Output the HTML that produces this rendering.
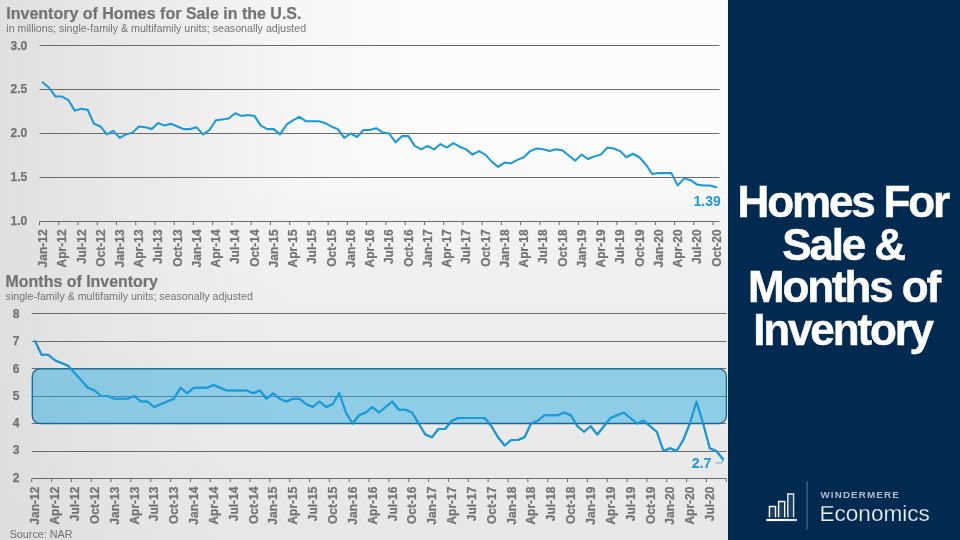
<!DOCTYPE html>
<html lang="en">
<head>
<meta charset="utf-8">
<title>Homes For Sale &amp; Months of Inventory</title>
<style>
html,body{margin:0;padding:0;}
body{width:960px;height:540px;overflow:hidden;position:relative;background:#ffffff;font-family:"Liberation Sans", Arial, Helvetica, sans-serif;}
#left{position:absolute;left:0;top:0;width:728px;height:540px;background:#ececec;overflow:hidden;}
#left div{position:absolute;left:-30px;top:-30px;width:788px;height:600px;filter:blur(5px);}
#left i{display:block;width:788px;height:10px;}
#right{position:absolute;left:728px;top:0;width:232px;height:540px;background:#012a50;}
</style>
</head>
<body>
<div id="left"><div><i style="background:linear-gradient(90deg,#e0e0e0 0px,#e0e0e0 30px,#e4e4e4 90px,#e9e9e9 150px,#ededed 210px,#f2f2f2 270px,#f6f6f6 330px,#f8f8f8 370px,#fafafa 410px,#fbfbfb 450px,#fcfcfc 490px,#fcfcfc 570px,#fcfcfc 788px)"></i><i style="background:linear-gradient(90deg,#e0e0e0 0px,#e0e0e0 30px,#e4e4e4 90px,#e9e9e9 150px,#ededed 210px,#f2f2f2 270px,#f6f6f6 330px,#f8f8f8 370px,#fafafa 410px,#fbfbfb 450px,#fcfcfc 490px,#fcfcfc 570px,#fcfcfc 788px)"></i><i style="background:linear-gradient(90deg,#e0e0e0 0px,#e0e0e0 30px,#e4e4e4 90px,#e9e9e9 150px,#ededed 210px,#f2f2f2 270px,#f6f6f6 330px,#f8f8f8 370px,#fafafa 410px,#fbfbfb 450px,#fcfcfc 490px,#fcfcfc 570px,#fcfcfc 788px)"></i><i style="background:linear-gradient(90deg,#e0e0e0 0px,#e0e0e0 30px,#e4e4e4 90px,#e9e9e9 150px,#ededed 210px,#f2f2f2 270px,#f6f6f6 330px,#f8f8f8 370px,#fafafa 410px,#fbfbfb 450px,#fcfcfc 490px,#fcfcfc 570px,#fcfcfc 788px)"></i><i style="background:linear-gradient(90deg,#e0e0e0 0px,#e0e0e0 30px,#e4e4e4 90px,#e9e9e9 150px,#ededed 210px,#f2f2f2 270px,#f6f6f6 330px,#f8f8f8 370px,#fafafa 410px,#fbfbfb 450px,#fcfcfc 490px,#fcfcfc 570px,#fcfcfc 788px)"></i><i style="background:linear-gradient(90deg,#e0e0e0 0px,#e0e0e0 30px,#e4e4e4 90px,#e9e9e9 150px,#ededed 210px,#f2f2f2 270px,#f6f6f6 330px,#f8f8f8 370px,#fafafa 410px,#fbfbfb 450px,#fcfcfc 490px,#fcfcfc 570px,#fcfcfc 788px)"></i><i style="background:linear-gradient(90deg,#e0e0e0 0px,#e0e0e0 30px,#e4e4e4 90px,#e9e9e9 150px,#ededed 210px,#f2f2f2 270px,#f6f6f6 330px,#f8f8f8 370px,#fafafa 410px,#fbfbfb 450px,#fcfcfc 490px,#fcfcfc 570px,#fcfcfc 788px)"></i><i style="background:linear-gradient(90deg,#e0e0e0 0px,#e0e0e0 30px,#e4e4e4 90px,#e9e9e9 150px,#ededed 210px,#f2f2f2 270px,#f6f6f6 330px,#f8f8f8 370px,#fafafa 410px,#fbfbfb 450px,#fcfcfc 490px,#fcfcfc 570px,#fcfcfc 788px)"></i><i style="background:linear-gradient(90deg,#e0e0e0 0px,#e0e0e0 30px,#e4e4e4 90px,#e9e9e9 150px,#ededed 210px,#f2f2f2 270px,#f6f6f6 330px,#f8f8f8 370px,#fafafa 410px,#fbfbfb 450px,#fcfcfc 490px,#fcfcfc 570px,#fcfcfc 788px)"></i><i style="background:linear-gradient(90deg,#e0e0e0 0px,#e0e0e0 30px,#e4e4e4 90px,#e9e9e9 150px,#ededed 210px,#f2f2f2 270px,#f6f6f6 330px,#f8f8f8 370px,#fafafa 410px,#fbfbfb 450px,#fcfcfc 490px,#fcfcfc 570px,#fcfcfc 788px)"></i><i style="background:linear-gradient(90deg,#e0e0e0 0px,#e0e0e0 30px,#e4e4e4 90px,#e9e9e9 150px,#ededed 210px,#f2f2f2 270px,#f6f6f6 330px,#f8f8f8 370px,#fafafa 410px,#fbfbfb 450px,#fcfcfc 490px,#fcfcfc 570px,#fcfcfc 788px)"></i><i style="background:linear-gradient(90deg,#e0e0e0 0px,#e0e0e0 30px,#e4e4e4 90px,#e9e9e9 150px,#ededed 210px,#f2f2f2 270px,#f6f6f6 330px,#f8f8f8 370px,#fafafa 410px,#fbfbfb 450px,#fcfcfc 490px,#fcfcfc 570px,#fcfcfc 788px)"></i><i style="background:linear-gradient(90deg,#e0e0e0 0px,#e0e0e0 30px,#e4e4e4 90px,#e9e9e9 150px,#ededed 210px,#f2f2f2 270px,#f6f6f6 330px,#f8f8f8 370px,#fafafa 410px,#fbfbfb 450px,#fcfcfc 490px,#fcfcfc 570px,#fcfcfc 788px)"></i><i style="background:linear-gradient(90deg,#e0e0e0 0px,#e0e0e0 30px,#e4e4e4 90px,#e9e9e9 150px,#ededed 210px,#f2f2f2 270px,#f6f6f6 330px,#f8f8f8 370px,#fafafa 410px,#fbfbfb 450px,#fcfcfc 490px,#fcfcfc 570px,#fcfcfc 788px)"></i><i style="background:linear-gradient(90deg,#e0e0e0 0px,#e0e0e0 30px,#e4e4e4 90px,#e9e9e9 150px,#ededed 210px,#f2f2f2 270px,#f6f6f6 330px,#f8f8f8 370px,#fafafa 410px,#fbfbfb 450px,#fcfcfc 490px,#fcfcfc 570px,#fcfcfc 788px)"></i><i style="background:linear-gradient(90deg,#e0e0e0 0px,#e0e0e0 30px,#e4e4e4 90px,#e9e9e9 150px,#ededed 210px,#f2f2f2 270px,#f6f6f6 330px,#f8f8f8 370px,#fafafa 410px,#fbfbfb 450px,#fcfcfc 490px,#fcfcfc 570px,#fcfcfc 788px)"></i><i style="background:linear-gradient(90deg,#e0e0e0 0px,#e0e0e0 30px,#e4e4e4 90px,#e9e9e9 150px,#ededed 210px,#f2f2f2 270px,#f6f6f6 330px,#f8f8f8 370px,#fafafa 410px,#fbfbfb 450px,#fcfcfc 490px,#fcfcfc 570px,#fcfcfc 788px)"></i><i style="background:linear-gradient(90deg,#e0e0e0 0px,#e0e0e0 30px,#e4e4e4 90px,#e9e9e9 150px,#ededed 210px,#f2f2f2 270px,#f6f6f6 330px,#f8f8f8 370px,#fafafa 410px,#fbfbfb 450px,#fcfcfc 490px,#fcfcfc 570px,#fcfcfc 788px)"></i><i style="background:linear-gradient(90deg,#e0e0e0 0px,#e0e0e0 30px,#e4e4e4 90px,#e9e9e9 150px,#ededed 210px,#f2f2f2 270px,#f6f6f6 330px,#f8f8f8 370px,#fafafa 410px,#fbfbfb 450px,#fbfbfb 490px,#fcfcfc 570px,#fcfcfc 788px)"></i><i style="background:linear-gradient(90deg,#e0e0e0 0px,#e0e0e0 30px,#e4e4e4 90px,#e9e9e9 150px,#ededed 210px,#f2f2f2 270px,#f6f6f6 330px,#f8f8f8 370px,#f9f9f9 410px,#fafafa 450px,#fafafa 490px,#fafafa 570px,#fafafa 788px)"></i><i style="background:linear-gradient(90deg,#e0e0e0 0px,#e0e0e0 30px,#e4e4e4 90px,#e9e9e9 150px,#ededed 210px,#f2f2f2 270px,#f6f6f6 330px,#f8f8f8 370px,#f9f9f9 410px,#f9f9f9 450px,#f9f9f9 490px,#f9f9f9 570px,#f9f9f9 788px)"></i><i style="background:linear-gradient(90deg,#e0e0e0 0px,#e0e0e0 30px,#e4e4e4 90px,#e9e9e9 150px,#ededed 210px,#f2f2f2 270px,#f6f6f6 330px,#f7f7f7 370px,#f8f8f8 410px,#f8f8f8 450px,#f8f8f8 490px,#f8f8f8 570px,#f8f8f8 788px)"></i><i style="background:linear-gradient(90deg,#e0e0e0 0px,#e0e0e0 30px,#e4e4e4 90px,#e9e9e9 150px,#ededed 210px,#f2f2f2 270px,#f5f5f5 330px,#f6f6f6 370px,#f6f6f6 410px,#f7f7f7 450px,#f7f7f7 490px,#f7f7f7 570px,#f7f7f7 788px)"></i><i style="background:linear-gradient(90deg,#e0e0e0 0px,#e0e0e0 30px,#e4e4e4 90px,#e9e9e9 150px,#ededed 210px,#f1f1f1 270px,#f4f4f4 330px,#f5f5f5 370px,#f5f5f5 410px,#f5f5f5 450px,#f5f5f5 490px,#f5f5f5 570px,#f5f5f5 788px)"></i><i style="background:linear-gradient(90deg,#e0e0e0 0px,#e0e0e0 30px,#e4e4e4 90px,#e9e9e9 150px,#ededed 210px,#f1f1f1 270px,#f4f4f4 330px,#f4f4f4 370px,#f4f4f4 410px,#f4f4f4 450px,#f4f4f4 490px,#f4f4f4 570px,#f4f4f4 788px)"></i><i style="background:linear-gradient(90deg,#e0e0e0 0px,#e0e0e0 30px,#e4e4e4 90px,#e8e8e8 150px,#ededed 210px,#f0f0f0 270px,#f3f3f3 330px,#f3f3f3 370px,#f3f3f3 410px,#f3f3f3 450px,#f3f3f3 490px,#f3f3f3 570px,#f3f3f3 788px)"></i><i style="background:linear-gradient(90deg,#dfdfdf 0px,#dfdfdf 30px,#e4e4e4 90px,#e8e8e8 150px,#ececec 210px,#f0f0f0 270px,#f2f2f2 330px,#f2f2f2 370px,#f2f2f2 410px,#f2f2f2 450px,#f2f2f2 490px,#f2f2f2 570px,#f2f2f2 788px)"></i><i style="background:linear-gradient(90deg,#dfdfdf 0px,#dfdfdf 30px,#e4e4e4 90px,#e8e8e8 150px,#ececec 210px,#efefef 270px,#f1f1f1 330px,#f1f1f1 370px,#f1f1f1 410px,#f1f1f1 450px,#f1f1f1 490px,#f1f1f1 570px,#f1f1f1 788px)"></i><i style="background:linear-gradient(90deg,#dfdfdf 0px,#dfdfdf 30px,#e4e4e4 90px,#e8e8e8 150px,#ececec 210px,#efefef 270px,#f1f1f1 330px,#f1f1f1 370px,#f1f1f1 410px,#f1f1f1 450px,#f1f1f1 490px,#f1f1f1 570px,#f1f1f1 788px)"></i><i style="background:linear-gradient(90deg,#dfdfdf 0px,#dfdfdf 30px,#e4e4e4 90px,#e8e8e8 150px,#ececec 210px,#efefef 270px,#f0f0f0 330px,#f0f0f0 370px,#f0f0f0 410px,#f0f0f0 450px,#f0f0f0 490px,#f0f0f0 570px,#f0f0f0 788px)"></i><i style="background:linear-gradient(90deg,#dfdfdf 0px,#dfdfdf 30px,#e4e4e4 90px,#e8e8e8 150px,#ebebeb 210px,#eeeeee 270px,#f0f0f0 330px,#f0f0f0 370px,#f0f0f0 410px,#f0f0f0 450px,#f0f0f0 490px,#f0f0f0 570px,#f0f0f0 788px)"></i><i style="background:linear-gradient(90deg,#dfdfdf 0px,#dfdfdf 30px,#e3e3e3 90px,#e7e7e7 150px,#ebebeb 210px,#eeeeee 270px,#efefef 330px,#efefef 370px,#efefef 410px,#efefef 450px,#efefef 490px,#efefef 570px,#efefef 788px)"></i><i style="background:linear-gradient(90deg,#dfdfdf 0px,#dfdfdf 30px,#e3e3e3 90px,#e7e7e7 150px,#ebebeb 210px,#ededed 270px,#efefef 330px,#efefef 370px,#efefef 410px,#efefef 450px,#efefef 490px,#efefef 570px,#efefef 788px)"></i><i style="background:linear-gradient(90deg,#dfdfdf 0px,#dfdfdf 30px,#e3e3e3 90px,#e7e7e7 150px,#ebebeb 210px,#ededed 270px,#eeeeee 330px,#eeeeee 370px,#eeeeee 410px,#eeeeee 450px,#eeeeee 490px,#eeeeee 570px,#eeeeee 788px)"></i><i style="background:linear-gradient(90deg,#dfdfdf 0px,#dfdfdf 30px,#e3e3e3 90px,#e7e7e7 150px,#eaeaea 210px,#ededed 270px,#eeeeee 330px,#eeeeee 370px,#eeeeee 410px,#eeeeee 450px,#eeeeee 490px,#eeeeee 570px,#eeeeee 788px)"></i><i style="background:linear-gradient(90deg,#dfdfdf 0px,#dfdfdf 30px,#e3e3e3 90px,#e7e7e7 150px,#eaeaea 210px,#ececec 270px,#ededed 330px,#eeeeee 370px,#eeeeee 410px,#eeeeee 450px,#eeeeee 490px,#eeeeee 570px,#eeeeee 788px)"></i><i style="background:linear-gradient(90deg,#dfdfdf 0px,#dfdfdf 30px,#e3e3e3 90px,#e7e7e7 150px,#eaeaea 210px,#ececec 270px,#ededed 330px,#ededed 370px,#ededed 410px,#ededed 450px,#ededed 490px,#ededed 570px,#ededed 788px)"></i><i style="background:linear-gradient(90deg,#dfdfdf 0px,#dfdfdf 30px,#e3e3e3 90px,#e7e7e7 150px,#eaeaea 210px,#ececec 270px,#ededed 330px,#ededed 370px,#ededed 410px,#ededed 450px,#ededed 490px,#ededed 570px,#ededed 788px)"></i><i style="background:linear-gradient(90deg,#dfdfdf 0px,#dfdfdf 30px,#e3e3e3 90px,#e6e6e6 150px,#eaeaea 210px,#ececec 270px,#ececec 330px,#ececec 370px,#ededed 410px,#ededed 450px,#ededed 490px,#ededed 570px,#ededed 788px)"></i><i style="background:linear-gradient(90deg,#dfdfdf 0px,#dfdfdf 30px,#e3e3e3 90px,#e6e6e6 150px,#e9e9e9 210px,#ebebeb 270px,#ececec 330px,#ececec 370px,#ececec 410px,#ececec 450px,#ececec 490px,#ececec 570px,#ececec 788px)"></i><i style="background:linear-gradient(90deg,#dfdfdf 0px,#dfdfdf 30px,#e3e3e3 90px,#e6e6e6 150px,#e9e9e9 210px,#ebebeb 270px,#ececec 330px,#ececec 370px,#ececec 410px,#ececec 450px,#ececec 490px,#ececec 570px,#ececec 788px)"></i><i style="background:linear-gradient(90deg,#dedede 0px,#dedede 30px,#e2e2e2 90px,#e6e6e6 150px,#e9e9e9 210px,#ebebeb 270px,#ececec 330px,#ececec 370px,#ececec 410px,#ececec 450px,#ececec 490px,#ececec 570px,#ececec 788px)"></i><i style="background:linear-gradient(90deg,#dedede 0px,#dedede 30px,#e2e2e2 90px,#e6e6e6 150px,#e9e9e9 210px,#ebebeb 270px,#ebebeb 330px,#ebebeb 370px,#ebebeb 410px,#ebebeb 450px,#ebebeb 490px,#ebebeb 570px,#ebebeb 788px)"></i><i style="background:linear-gradient(90deg,#dedede 0px,#dedede 30px,#e2e2e2 90px,#e6e6e6 150px,#e9e9e9 210px,#eaeaea 270px,#ebebeb 330px,#ebebeb 370px,#ebebeb 410px,#ebebeb 450px,#ebebeb 490px,#ebebeb 570px,#ebebeb 788px)"></i><i style="background:linear-gradient(90deg,#dedede 0px,#dedede 30px,#e2e2e2 90px,#e6e6e6 150px,#e8e8e8 210px,#eaeaea 270px,#ebebeb 330px,#ebebeb 370px,#ebebeb 410px,#ebebeb 450px,#ebebeb 490px,#ebebeb 570px,#ebebeb 788px)"></i><i style="background:linear-gradient(90deg,#dedede 0px,#dedede 30px,#e2e2e2 90px,#e6e6e6 150px,#e8e8e8 210px,#eaeaea 270px,#eaeaea 330px,#ebebeb 370px,#ebebeb 410px,#ebebeb 450px,#ebebeb 490px,#ebebeb 570px,#ebebeb 788px)"></i><i style="background:linear-gradient(90deg,#dedede 0px,#dedede 30px,#e2e2e2 90px,#e5e5e5 150px,#e8e8e8 210px,#eaeaea 270px,#eaeaea 330px,#eaeaea 370px,#eaeaea 410px,#eaeaea 450px,#eaeaea 490px,#eaeaea 570px,#eaeaea 788px)"></i><i style="background:linear-gradient(90deg,#dedede 0px,#dedede 30px,#e2e2e2 90px,#e5e5e5 150px,#e8e8e8 210px,#e9e9e9 270px,#eaeaea 330px,#eaeaea 370px,#eaeaea 410px,#eaeaea 450px,#eaeaea 490px,#eaeaea 570px,#eaeaea 788px)"></i><i style="background:linear-gradient(90deg,#dedede 0px,#dedede 30px,#e2e2e2 90px,#e5e5e5 150px,#e8e8e8 210px,#e9e9e9 270px,#eaeaea 330px,#eaeaea 370px,#eaeaea 410px,#eaeaea 450px,#eaeaea 490px,#eaeaea 570px,#eaeaea 788px)"></i><i style="background:linear-gradient(90deg,#dedede 0px,#dedede 30px,#e2e2e2 90px,#e5e5e5 150px,#e7e7e7 210px,#e9e9e9 270px,#e9e9e9 330px,#e9e9e9 370px,#e9e9e9 410px,#e9e9e9 450px,#e9e9e9 490px,#e9e9e9 570px,#e9e9e9 788px)"></i><i style="background:linear-gradient(90deg,#dedede 0px,#dedede 30px,#e1e1e1 90px,#e5e5e5 150px,#e7e7e7 210px,#e8e8e8 270px,#e9e9e9 330px,#e9e9e9 370px,#e9e9e9 410px,#e9e9e9 450px,#e9e9e9 490px,#e9e9e9 570px,#e9e9e9 788px)"></i><i style="background:linear-gradient(90deg,#dedede 0px,#dedede 30px,#e1e1e1 90px,#e4e4e4 150px,#e7e7e7 210px,#e8e8e8 270px,#e9e9e9 330px,#e9e9e9 370px,#e9e9e9 410px,#e9e9e9 450px,#e9e9e9 490px,#e9e9e9 570px,#e9e9e9 788px)"></i><i style="background:linear-gradient(90deg,#dedede 0px,#dedede 30px,#e1e1e1 90px,#e4e4e4 150px,#e7e7e7 210px,#e8e8e8 270px,#e8e8e8 330px,#e8e8e8 370px,#e8e8e8 410px,#e9e9e9 450px,#e9e9e9 490px,#e9e9e9 570px,#e9e9e9 788px)"></i><i style="background:linear-gradient(90deg,#dddddd 0px,#dddddd 30px,#e1e1e1 90px,#e4e4e4 150px,#e6e6e6 210px,#e8e8e8 270px,#e8e8e8 330px,#e8e8e8 370px,#e8e8e8 410px,#e8e8e8 450px,#e8e8e8 490px,#e8e8e8 570px,#e8e8e8 788px)"></i><i style="background:linear-gradient(90deg,#dddddd 0px,#dddddd 30px,#e1e1e1 90px,#e4e4e4 150px,#e6e6e6 210px,#e7e7e7 270px,#e8e8e8 330px,#e8e8e8 370px,#e8e8e8 410px,#e8e8e8 450px,#e8e8e8 490px,#e8e8e8 570px,#e8e8e8 788px)"></i><i style="background:linear-gradient(90deg,#dddddd 0px,#dddddd 30px,#e1e1e1 90px,#e4e4e4 150px,#e6e6e6 210px,#e7e7e7 270px,#e7e7e7 330px,#e8e8e8 370px,#e8e8e8 410px,#e8e8e8 450px,#e8e8e8 490px,#e8e8e8 570px,#e8e8e8 788px)"></i><i style="background:linear-gradient(90deg,#dddddd 0px,#dddddd 30px,#e1e1e1 90px,#e3e3e3 150px,#e6e6e6 210px,#e7e7e7 270px,#e7e7e7 330px,#e7e7e7 370px,#e7e7e7 410px,#e7e7e7 450px,#e7e7e7 490px,#e7e7e7 570px,#e7e7e7 788px)"></i><i style="background:linear-gradient(90deg,#dddddd 0px,#dddddd 30px,#e1e1e1 90px,#e3e3e3 150px,#e5e5e5 210px,#e7e7e7 270px,#e7e7e7 330px,#e7e7e7 370px,#e7e7e7 410px,#e7e7e7 450px,#e7e7e7 490px,#e7e7e7 570px,#e7e7e7 788px)"></i><i style="background:linear-gradient(90deg,#dddddd 0px,#dddddd 30px,#e1e1e1 90px,#e3e3e3 150px,#e5e5e5 210px,#e7e7e7 270px,#e7e7e7 330px,#e7e7e7 370px,#e7e7e7 410px,#e7e7e7 450px,#e7e7e7 490px,#e7e7e7 570px,#e7e7e7 788px)"></i><i style="background:linear-gradient(90deg,#dddddd 0px,#dddddd 30px,#e1e1e1 90px,#e3e3e3 150px,#e5e5e5 210px,#e7e7e7 270px,#e7e7e7 330px,#e7e7e7 370px,#e7e7e7 410px,#e7e7e7 450px,#e7e7e7 490px,#e7e7e7 570px,#e7e7e7 788px)"></i></div></div>
<div id="right"></div>
<svg width="960" height="540" viewBox="0 0 960 540" style="position:absolute;left:0;top:0">
<g stroke="#6a6a6a" stroke-width="1" fill="none">
<line x1="39.50" y1="45.50" x2="719.50" y2="45.50"/>
<line x1="39.50" y1="89.50" x2="719.50" y2="89.50"/>
<line x1="39.50" y1="133.50" x2="719.50" y2="133.50"/>
<line x1="39.50" y1="177.50" x2="719.50" y2="177.50"/>
<line x1="39.50" y1="221.50" x2="719.50" y2="221.50"/>
<line x1="39.50" y1="221.50" x2="39.50" y2="225.10"/>
<line x1="58.75" y1="221.50" x2="58.75" y2="225.10"/>
<line x1="77.99" y1="221.50" x2="77.99" y2="225.10"/>
<line x1="97.24" y1="221.50" x2="97.24" y2="225.10"/>
<line x1="116.48" y1="221.50" x2="116.48" y2="225.10"/>
<line x1="135.73" y1="221.50" x2="135.73" y2="225.10"/>
<line x1="154.97" y1="221.50" x2="154.97" y2="225.10"/>
<line x1="174.22" y1="221.50" x2="174.22" y2="225.10"/>
<line x1="193.46" y1="221.50" x2="193.46" y2="225.10"/>
<line x1="212.71" y1="221.50" x2="212.71" y2="225.10"/>
<line x1="231.95" y1="221.50" x2="231.95" y2="225.10"/>
<line x1="251.20" y1="221.50" x2="251.20" y2="225.10"/>
<line x1="270.44" y1="221.50" x2="270.44" y2="225.10"/>
<line x1="289.69" y1="221.50" x2="289.69" y2="225.10"/>
<line x1="308.93" y1="221.50" x2="308.93" y2="225.10"/>
<line x1="328.18" y1="221.50" x2="328.18" y2="225.10"/>
<line x1="347.42" y1="221.50" x2="347.42" y2="225.10"/>
<line x1="366.67" y1="221.50" x2="366.67" y2="225.10"/>
<line x1="385.92" y1="221.50" x2="385.92" y2="225.10"/>
<line x1="405.16" y1="221.50" x2="405.16" y2="225.10"/>
<line x1="424.41" y1="221.50" x2="424.41" y2="225.10"/>
<line x1="443.65" y1="221.50" x2="443.65" y2="225.10"/>
<line x1="462.90" y1="221.50" x2="462.90" y2="225.10"/>
<line x1="482.14" y1="221.50" x2="482.14" y2="225.10"/>
<line x1="501.39" y1="221.50" x2="501.39" y2="225.10"/>
<line x1="520.63" y1="221.50" x2="520.63" y2="225.10"/>
<line x1="539.88" y1="221.50" x2="539.88" y2="225.10"/>
<line x1="559.12" y1="221.50" x2="559.12" y2="225.10"/>
<line x1="578.37" y1="221.50" x2="578.37" y2="225.10"/>
<line x1="597.61" y1="221.50" x2="597.61" y2="225.10"/>
<line x1="616.86" y1="221.50" x2="616.86" y2="225.10"/>
<line x1="636.10" y1="221.50" x2="636.10" y2="225.10"/>
<line x1="655.35" y1="221.50" x2="655.35" y2="225.10"/>
<line x1="674.59" y1="221.50" x2="674.59" y2="225.10"/>
<line x1="693.84" y1="221.50" x2="693.84" y2="225.10"/>
<line x1="713.08" y1="221.50" x2="713.08" y2="225.10"/>
</g>
<g font-family='"Liberation Sans", Arial, Helvetica, sans-serif' font-weight="bold" font-size="12" fill="#737373" stroke="#737373" stroke-width="0.25" text-anchor="end">
<text x="27.2" y="49.50">3.0</text>
<text x="27.2" y="93.25">2.5</text>
<text x="27.2" y="137.00">2.0</text>
<text x="27.2" y="180.75">1.5</text>
<text x="27.2" y="224.50">1.0</text>
</g>
<g font-family='"Liberation Sans", Arial, Helvetica, sans-serif' font-weight="bold" font-size="12" fill="#737373" stroke="#737373" stroke-width="0.25" text-anchor="end">
<text transform="translate(47.01 229.40) rotate(-90)">Jan-12</text>
<text transform="translate(66.25 229.40) rotate(-90)">Apr-12</text>
<text transform="translate(85.50 229.40) rotate(-90)">Jul-12</text>
<text transform="translate(104.74 229.40) rotate(-90)">Oct-12</text>
<text transform="translate(123.99 229.40) rotate(-90)">Jan-13</text>
<text transform="translate(143.23 229.40) rotate(-90)">Apr-13</text>
<text transform="translate(162.48 229.40) rotate(-90)">Jul-13</text>
<text transform="translate(181.72 229.40) rotate(-90)">Oct-13</text>
<text transform="translate(200.97 229.40) rotate(-90)">Jan-14</text>
<text transform="translate(220.22 229.40) rotate(-90)">Apr-14</text>
<text transform="translate(239.46 229.40) rotate(-90)">Jul-14</text>
<text transform="translate(258.71 229.40) rotate(-90)">Oct-14</text>
<text transform="translate(277.95 229.40) rotate(-90)">Jan-15</text>
<text transform="translate(297.20 229.40) rotate(-90)">Apr-15</text>
<text transform="translate(316.44 229.40) rotate(-90)">Jul-15</text>
<text transform="translate(335.69 229.40) rotate(-90)">Oct-15</text>
<text transform="translate(354.93 229.40) rotate(-90)">Jan-16</text>
<text transform="translate(374.18 229.40) rotate(-90)">Apr-16</text>
<text transform="translate(393.42 229.40) rotate(-90)">Jul-16</text>
<text transform="translate(412.67 229.40) rotate(-90)">Oct-16</text>
<text transform="translate(431.91 229.40) rotate(-90)">Jan-17</text>
<text transform="translate(451.16 229.40) rotate(-90)">Apr-17</text>
<text transform="translate(470.40 229.40) rotate(-90)">Jul-17</text>
<text transform="translate(489.65 229.40) rotate(-90)">Oct-17</text>
<text transform="translate(508.89 229.40) rotate(-90)">Jan-18</text>
<text transform="translate(528.14 229.40) rotate(-90)">Apr-18</text>
<text transform="translate(547.38 229.40) rotate(-90)">Jul-18</text>
<text transform="translate(566.63 229.40) rotate(-90)">Oct-18</text>
<text transform="translate(585.88 229.40) rotate(-90)">Jan-19</text>
<text transform="translate(605.12 229.40) rotate(-90)">Apr-19</text>
<text transform="translate(624.37 229.40) rotate(-90)">Jul-19</text>
<text transform="translate(643.61 229.40) rotate(-90)">Oct-19</text>
<text transform="translate(662.86 229.40) rotate(-90)">Jan-20</text>
<text transform="translate(682.10 229.40) rotate(-90)">Apr-20</text>
<text transform="translate(701.35 229.40) rotate(-90)">Jul-20</text>
<text transform="translate(720.59 229.40) rotate(-90)">Oct-20</text>
</g>
<polyline points="42.71,82.46 49.12,87.74 55.54,96.54 61.95,96.54 68.37,100.06 74.78,110.62 81.20,108.86 87.61,109.74 94.03,123.82 100.44,126.46 106.86,134.38 113.27,130.86 119.69,137.90 126.10,134.38 132.52,132.62 138.93,126.46 145.35,127.34 151.76,129.10 158.18,122.94 164.59,125.58 171.01,123.82 177.42,126.46 183.84,129.10 190.25,129.10 196.67,127.34 203.08,134.38 209.50,129.98 215.92,120.30 222.33,119.42 228.75,118.54 235.16,113.26 241.58,115.90 247.99,115.02 254.41,115.90 260.82,125.58 267.24,129.10 273.65,129.10 280.07,134.38 286.48,124.70 292.90,120.30 299.31,116.78 305.73,121.18 312.14,121.18 318.56,121.18 324.97,122.94 331.39,126.46 337.80,129.10 344.22,137.90 350.63,133.50 357.05,137.02 363.46,129.98 369.88,129.98 376.29,128.22 382.71,132.62 389.12,133.50 395.54,142.30 401.95,136.14 408.37,136.14 414.78,145.82 421.20,149.34 427.61,145.82 434.03,149.34 440.44,144.06 446.86,147.58 453.27,143.18 459.69,146.70 466.10,149.34 472.52,154.62 478.93,151.10 485.35,154.62 491.76,161.66 498.18,166.94 504.59,162.54 511.01,163.42 517.42,159.90 523.84,157.26 530.25,151.10 536.67,148.46 543.08,149.34 549.50,151.10 555.92,149.34 562.33,150.22 568.75,155.50 575.16,160.78 581.58,154.62 587.99,159.02 594.41,156.38 600.82,154.62 607.24,147.58 613.65,148.46 620.07,151.10 626.48,157.26 632.90,153.74 639.31,157.26 645.73,164.30 652.14,173.98 658.56,173.10 664.97,173.10 671.39,173.10 677.80,185.42 684.22,178.38 690.63,180.14 697.05,184.54 703.46,185.42 709.88,185.42 716.29,187.18" fill="none" stroke="#1b98d6" stroke-width="2.05" stroke-linejoin="round" stroke-linecap="round"/>
<text x="720.8" y="206.3" text-anchor="end" font-family='"Liberation Sans", Arial, Helvetica, sans-serif' font-weight="bold" font-size="14" fill="#1b98d6">1.39</text>
<g stroke="#6a6a6a" stroke-width="1" fill="none">
<line x1="31.70" y1="313.50" x2="726.30" y2="313.50"/>
<line x1="31.70" y1="341.50" x2="726.30" y2="341.50"/>
<line x1="31.70" y1="368.50" x2="726.30" y2="368.50"/>
<line x1="31.70" y1="396.50" x2="726.30" y2="396.50"/>
<line x1="31.70" y1="423.50" x2="726.30" y2="423.50"/>
<line x1="31.70" y1="451.50" x2="726.30" y2="451.50"/>
<line x1="31.70" y1="478.50" x2="726.30" y2="478.50"/>
<line x1="31.70" y1="478.50" x2="31.70" y2="482.10"/>
<line x1="51.55" y1="478.50" x2="51.55" y2="482.10"/>
<line x1="71.39" y1="478.50" x2="71.39" y2="482.10"/>
<line x1="91.23" y1="478.50" x2="91.23" y2="482.10"/>
<line x1="111.08" y1="478.50" x2="111.08" y2="482.10"/>
<line x1="130.93" y1="478.50" x2="130.93" y2="482.10"/>
<line x1="150.77" y1="478.50" x2="150.77" y2="482.10"/>
<line x1="170.61" y1="478.50" x2="170.61" y2="482.10"/>
<line x1="190.46" y1="478.50" x2="190.46" y2="482.10"/>
<line x1="210.31" y1="478.50" x2="210.31" y2="482.10"/>
<line x1="230.15" y1="478.50" x2="230.15" y2="482.10"/>
<line x1="250.00" y1="478.50" x2="250.00" y2="482.10"/>
<line x1="269.84" y1="478.50" x2="269.84" y2="482.10"/>
<line x1="289.69" y1="478.50" x2="289.69" y2="482.10"/>
<line x1="309.53" y1="478.50" x2="309.53" y2="482.10"/>
<line x1="329.38" y1="478.50" x2="329.38" y2="482.10"/>
<line x1="349.22" y1="478.50" x2="349.22" y2="482.10"/>
<line x1="369.06" y1="478.50" x2="369.06" y2="482.10"/>
<line x1="388.91" y1="478.50" x2="388.91" y2="482.10"/>
<line x1="408.75" y1="478.50" x2="408.75" y2="482.10"/>
<line x1="428.60" y1="478.50" x2="428.60" y2="482.10"/>
<line x1="448.44" y1="478.50" x2="448.44" y2="482.10"/>
<line x1="468.29" y1="478.50" x2="468.29" y2="482.10"/>
<line x1="488.13" y1="478.50" x2="488.13" y2="482.10"/>
<line x1="507.98" y1="478.50" x2="507.98" y2="482.10"/>
<line x1="527.83" y1="478.50" x2="527.83" y2="482.10"/>
<line x1="547.67" y1="478.50" x2="547.67" y2="482.10"/>
<line x1="567.52" y1="478.50" x2="567.52" y2="482.10"/>
<line x1="587.36" y1="478.50" x2="587.36" y2="482.10"/>
<line x1="607.21" y1="478.50" x2="607.21" y2="482.10"/>
<line x1="627.05" y1="478.50" x2="627.05" y2="482.10"/>
<line x1="646.90" y1="478.50" x2="646.90" y2="482.10"/>
<line x1="666.74" y1="478.50" x2="666.74" y2="482.10"/>
<line x1="686.59" y1="478.50" x2="686.59" y2="482.10"/>
<line x1="706.43" y1="478.50" x2="706.43" y2="482.10"/>
<line x1="726.28" y1="478.50" x2="726.28" y2="482.10"/>
</g>
<g font-family='"Liberation Sans", Arial, Helvetica, sans-serif' font-weight="bold" font-size="12" fill="#737373" stroke="#737373" stroke-width="0.25" text-anchor="end">
<text x="19.5" y="318.00">8</text>
<text x="19.5" y="345.28">7</text>
<text x="19.5" y="372.57">6</text>
<text x="19.5" y="399.85">5</text>
<text x="19.5" y="427.13">4</text>
<text x="19.5" y="454.42">3</text>
<text x="19.5" y="481.70">2</text>
</g>
<polyline points="35.00,341.00 41.62,354.75 48.23,354.75 54.84,360.25 61.46,363.00 68.08,365.75 74.69,373.18 81.31,380.32 87.92,387.75 94.53,390.50 101.15,396.00 107.77,396.00 114.38,398.75 121.00,398.75 127.61,398.75 134.23,396.00 140.84,401.50 147.45,401.50 154.07,407.00 160.69,404.25 167.30,401.50 173.91,398.75 180.53,387.75 187.15,393.25 193.76,387.75 200.38,387.75 206.99,387.75 213.61,385.00 220.22,387.75 226.84,390.50 233.45,390.50 240.06,390.50 246.68,390.50 253.30,393.25 259.91,390.50 266.52,398.75 273.14,393.25 279.75,398.75 286.37,401.50 292.99,398.75 299.60,398.75 306.22,404.25 312.83,407.00 319.44,401.50 326.06,407.00 332.68,404.25 339.29,393.25 345.91,412.50 352.52,423.50 359.13,415.25 365.75,412.50 372.37,407.00 378.98,412.50 385.60,407.00 392.21,401.50 398.82,409.75 405.44,409.75 412.06,412.50 418.67,423.50 425.29,434.50 431.90,437.25 438.51,429.00 445.13,429.00 451.75,420.75 458.36,418.00 464.98,418.00 471.59,418.00 478.21,418.00 484.82,418.00 491.44,426.25 498.05,437.25 504.67,445.50 511.28,440.00 517.89,440.00 524.51,437.25 531.12,423.50 537.74,420.75 544.36,415.25 550.97,415.25 557.59,415.25 564.20,412.50 570.82,415.25 577.43,426.25 584.05,431.75 590.66,426.25 597.27,434.50 603.89,426.25 610.50,418.00 617.12,415.25 623.74,412.50 630.35,418.00 636.97,423.50 643.58,420.75 650.20,426.25 656.81,431.75 663.43,451.00 670.04,448.25 676.65,451.00 683.27,440.00 689.88,423.50 696.50,401.50 703.12,423.50 709.73,448.25 716.35,451.00 722.96,459.25" fill="none" stroke="#1b98d6" stroke-width="2.05" stroke-linejoin="round" stroke-linecap="round"/>
<rect x="32.3" y="368.80" width="694.10" height="54.70" rx="7.5" ry="7.5" fill="#29abe2" fill-opacity="0.48" stroke="#1a6a98" stroke-width="1.35"/>
<polyline points="35.00,341.00 41.62,354.75 48.23,354.75 54.84,360.25 61.46,363.00 68.08,365.75 74.69,373.18 81.31,380.32 87.92,387.75 94.53,390.50 101.15,396.00 107.77,396.00 114.38,398.75 121.00,398.75 127.61,398.75 134.23,396.00 140.84,401.50 147.45,401.50 154.07,407.00 160.69,404.25 167.30,401.50 173.91,398.75 180.53,387.75 187.15,393.25 193.76,387.75 200.38,387.75 206.99,387.75 213.61,385.00 220.22,387.75 226.84,390.50 233.45,390.50 240.06,390.50 246.68,390.50 253.30,393.25 259.91,390.50 266.52,398.75 273.14,393.25 279.75,398.75 286.37,401.50 292.99,398.75 299.60,398.75 306.22,404.25 312.83,407.00 319.44,401.50 326.06,407.00 332.68,404.25 339.29,393.25 345.91,412.50 352.52,423.50 359.13,415.25 365.75,412.50 372.37,407.00 378.98,412.50 385.60,407.00 392.21,401.50 398.82,409.75 405.44,409.75 412.06,412.50 418.67,423.50 425.29,434.50 431.90,437.25 438.51,429.00 445.13,429.00 451.75,420.75 458.36,418.00 464.98,418.00 471.59,418.00 478.21,418.00 484.82,418.00 491.44,426.25 498.05,437.25 504.67,445.50 511.28,440.00 517.89,440.00 524.51,437.25 531.12,423.50 537.74,420.75 544.36,415.25 550.97,415.25 557.59,415.25 564.20,412.50 570.82,415.25 577.43,426.25 584.05,431.75 590.66,426.25 597.27,434.50 603.89,426.25 610.50,418.00 617.12,415.25 623.74,412.50 630.35,418.00 636.97,423.50 643.58,420.75 650.20,426.25 656.81,431.75 663.43,451.00 670.04,448.25 676.65,451.00 683.27,440.00 689.88,423.50 696.50,401.50 703.12,423.50 709.73,448.25 716.35,451.00 722.96,459.25" fill="none" stroke="#1b98d6" stroke-width="2.05" stroke-opacity="0.75" stroke-linejoin="round" stroke-linecap="round"/>
<g font-family='"Liberation Sans", Arial, Helvetica, sans-serif' font-weight="bold" font-size="12" fill="#737373" stroke="#737373" stroke-width="0.25" text-anchor="end">
<text transform="translate(39.30 486.60) rotate(-90)">Jan-12</text>
<text transform="translate(59.14 486.60) rotate(-90)">Apr-12</text>
<text transform="translate(78.99 486.60) rotate(-90)">Jul-12</text>
<text transform="translate(98.83 486.60) rotate(-90)">Oct-12</text>
<text transform="translate(118.68 486.60) rotate(-90)">Jan-13</text>
<text transform="translate(138.53 486.60) rotate(-90)">Apr-13</text>
<text transform="translate(158.37 486.60) rotate(-90)">Jul-13</text>
<text transform="translate(178.22 486.60) rotate(-90)">Oct-13</text>
<text transform="translate(198.06 486.60) rotate(-90)">Jan-14</text>
<text transform="translate(217.91 486.60) rotate(-90)">Apr-14</text>
<text transform="translate(237.75 486.60) rotate(-90)">Jul-14</text>
<text transform="translate(257.60 486.60) rotate(-90)">Oct-14</text>
<text transform="translate(277.44 486.60) rotate(-90)">Jan-15</text>
<text transform="translate(297.29 486.60) rotate(-90)">Apr-15</text>
<text transform="translate(317.13 486.60) rotate(-90)">Jul-15</text>
<text transform="translate(336.98 486.60) rotate(-90)">Oct-15</text>
<text transform="translate(356.82 486.60) rotate(-90)">Jan-16</text>
<text transform="translate(376.67 486.60) rotate(-90)">Apr-16</text>
<text transform="translate(396.51 486.60) rotate(-90)">Jul-16</text>
<text transform="translate(416.36 486.60) rotate(-90)">Oct-16</text>
<text transform="translate(436.20 486.60) rotate(-90)">Jan-17</text>
<text transform="translate(456.05 486.60) rotate(-90)">Apr-17</text>
<text transform="translate(475.89 486.60) rotate(-90)">Jul-17</text>
<text transform="translate(495.74 486.60) rotate(-90)">Oct-17</text>
<text transform="translate(515.58 486.60) rotate(-90)">Jan-18</text>
<text transform="translate(535.42 486.60) rotate(-90)">Apr-18</text>
<text transform="translate(555.27 486.60) rotate(-90)">Jul-18</text>
<text transform="translate(575.12 486.60) rotate(-90)">Oct-18</text>
<text transform="translate(594.96 486.60) rotate(-90)">Jan-19</text>
<text transform="translate(614.80 486.60) rotate(-90)">Apr-19</text>
<text transform="translate(634.65 486.60) rotate(-90)">Jul-19</text>
<text transform="translate(654.50 486.60) rotate(-90)">Oct-19</text>
<text transform="translate(674.34 486.60) rotate(-90)">Jan-20</text>
<text transform="translate(694.18 486.60) rotate(-90)">Apr-20</text>
<text transform="translate(714.03 486.60) rotate(-90)">Jul-20</text>
</g>
<text x="711.3" y="468.0" text-anchor="end" font-family='"Liberation Sans", Arial, Helvetica, sans-serif' font-weight="bold" font-size="14" fill="#1b98d6">2.7</text>
<polyline points="715.5,463 722,463 723.3,460" fill="none" stroke="#4aaee3" stroke-width="0.9"/>
<g font-family='"Liberation Sans", Arial, Helvetica, sans-serif' fill="#737373">
<text x="6.3" y="18.85" font-weight="bold" font-size="16" stroke="#737373" stroke-width="0.2">Inventory of Homes for Sale in the U.S.</text>
<text x="6.3" y="31.7" font-size="10.65">in millions; single-family &amp; multifamily units; seasonally adjusted</text>
<text x="5.6" y="286.6" font-weight="bold" font-size="15.95" stroke="#737373" stroke-width="0.2">Months of Inventory</text>
<text x="5.6" y="299.7" font-size="10.65">single-family &amp; multifamily units; seasonally adjusted</text>
<text x="9.7" y="538.0" font-size="10.75">Source: NAR</text>
</g>
<g font-family='"Liberation Sans", Arial, Helvetica, sans-serif' font-weight="bold" font-size="44" fill="#ffffff" stroke="#ffffff" stroke-width="0.5" text-anchor="middle" letter-spacing="-2.15">
<text x="842.80" y="217.20">Homes For</text>
<text x="843.00" y="259.80">Sale &amp;</text>
<text x="843.50" y="302.40">Months of</text>
<text x="842.60" y="345.00">Inventory</text>
</g>
<defs><linearGradient id="lg" x1="766" y1="0" x2="797" y2="0" gradientUnits="userSpaceOnUse"><stop offset="0" stop-color="#ffffff"/><stop offset="0.45" stop-color="#ffffff"/><stop offset="1" stop-color="#cfdcf0"/></linearGradient></defs>
<g fill="#ffffff" fill-opacity="0.10" stroke="url(#lg)" stroke-width="1.4">
<path d="M769.45 517.3V506.5H775.55V517.3"/>
<path d="M778.6 517.3V501.5H784.7V517.3"/>
<path d="M787.8 517.3V494H793.6V517.3"/>
</g>
<rect x="766.3" y="518.9" width="30.7" height="2.2" fill="url(#lg)"/>
<line x1="807.1" y1="481" x2="807.1" y2="529.5" stroke="#4d6890" stroke-width="1.2"/>
<text x="820.4" y="497.8" font-family='"Liberation Sans", Arial, Helvetica, sans-serif' font-weight="bold" font-size="9.8" letter-spacing="1.15" fill="#b2bdcd">WINDERMERE</text>
<text x="819.4" y="520.8" font-family='"Liberation Sans", Arial, Helvetica, sans-serif' font-size="22.6" letter-spacing="0" fill="#eef2f8" stroke="#012a50" stroke-width="0.25">Economics</text>
</svg>
</body>
</html>
